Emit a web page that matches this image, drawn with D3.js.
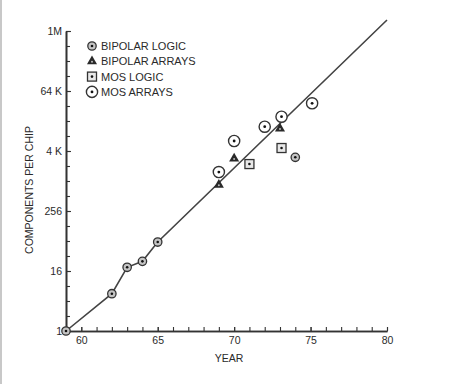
<!DOCTYPE html>
<html>
<head>
<meta charset="utf-8">
<script src="https://cdn.jsdelivr.net/npm/d3@7"></script>
<style>
  body { margin: 0; background: #fff; }
  text { font-family: "Liberation Sans", Arial, sans-serif; fill: #2a2a2a; }
</style>
</head>
<body>
<div id="chart"></div>
<script>
// values (components per chip, log2 scale)
var bipolarLogicYears = [1959, 1962, 1963, 1964, 1965, 1974];
var bipolarLogicVals = [1, 5.6, 19, 25, 61, 3060];

var bipolarArrayYears = [1969, 1970, 1973];
var bipolarArrayVals = [861, 2900, 11585];

var mosLogicYears = [1971, 1973.1];
var mosLogicVals = [2240, 4700];

var mosArrayYears = [1969, 1970, 1972, 1973.1, 1975.1];
var mosArrayVals = [1550, 6500, 12600, 20000, 37100];

// trend line: through early points then extrapolated
var trendYears = [1959, 1962, 1963, 1964, 1965, 1980];
var trendVals = [1, 5.6, 19, 25, 61, 1740000];

var yMajor = [1, 16, 256, 4096, 65536, 1048576];
var yMajorLabels = ["1", "16", "256", "4 K", "64 K", "1M"];
var xLabels = [1960, 1965, 1970, 1975, 1980];

var legendNames = ["BIPOLAR LOGIC", "BIPOLAR ARRAYS", "MOS LOGIC", "MOS ARRAYS"];

var svgWidth = 453;
var svgHeight = 384;

var svg = d3.select("#chart")
  .append("svg")
  .attr("width", svgWidth)
  .attr("height", svgHeight);

svg.append("rect").attr("width", svgWidth).attr("height", svgHeight).attr("fill", "#fff");
svg.append("line")
  .attr("x1", 1).attr("x2", 1).attr("y1", 0).attr("y2", svgHeight)
  .attr("stroke", "#c8c8c8").attr("stroke-width", 2);

var x = d3.scaleLinear().domain([1959, 1980]).range([66, 387]);
var y = d3.scaleLog().base(2).domain([1, 1048576]).range([331, 31]);

var ink = "#333";

// minor ticks every doubling / every year
var yMinor = d3.range(0, 21).map(function(p) { return Math.pow(2, p); });
var xMinor = d3.range(1959, 1981);

svg.append("g")
  .attr("transform", "translate(66,0)")
  .call(d3.axisLeft(y).tickValues(yMinor).tickSizeInner(-4).tickSizeOuter(0).tickFormat(""));

svg.append("g")
  .attr("transform", "translate(66,0)")
  .call(d3.axisLeft(y).tickValues(yMajor).tickSizeInner(-5).tickSizeOuter(0).tickPadding(4)
    .tickFormat(function(d, i) { return yMajorLabels[i]; }));

svg.append("g")
  .attr("transform", "translate(0,331)")
  .call(d3.axisBottom(x).tickValues(xMinor).tickSizeInner(-4).tickSizeOuter(0).tickFormat(""));

svg.append("g")
  .attr("transform", "translate(0,331)")
  .call(d3.axisBottom(x).tickValues(xLabels).tickSizeInner(-4).tickSizeOuter(0).tickPadding(6)
    .tickFormat(function(d) { return String(d).slice(2); }));

svg.selectAll(".domain").attr("stroke", ink).attr("stroke-width", 1.6);
svg.selectAll(".tick line").attr("stroke", ink).attr("stroke-width", 1.1);
svg.selectAll(".tick text")
  .style("font-size", "10.5px")
  .attr("fill", "#222");

// trend line
var line = d3.line()
  .x(function(d) { return x(d[0]); })
  .y(function(d) { return y(d[1]); });

svg.append("path")
  .datum(d3.zip(trendYears, trendVals))
  .attr("d", line)
  .attr("fill", "none")
  .attr("stroke", "#444")
  .attr("stroke-width", 1.6);

// marker drawers
function bipolarLogic(g) {
  g.append("circle").attr("r", 4.2).attr("fill", "#c4c4c4").attr("stroke", ink).attr("stroke-width", 1.3);
  g.append("circle").attr("r", 1.3).attr("fill", "#111");
}
function bipolarArray(g) {
  g.append("path")
    .attr("d", d3.symbol().type(d3.symbolTriangle).size(44)())
    .attr("fill", "#2a2a2a");
  g.append("circle").attr("r", 1).attr("cy", 0.5).attr("fill", "#bbb");
}
function mosLogic(g) {
  g.append("rect").attr("x", -4.5).attr("y", -4.5).attr("width", 9).attr("height", 9)
    .attr("fill", "#e8e8e8").attr("stroke", ink).attr("stroke-width", 1.3);
  g.append("circle").attr("r", 1.3).attr("fill", "#111");
}
function mosArray(g) {
  g.append("circle").attr("r", 5.6).attr("fill", "#fff").attr("stroke", ink).attr("stroke-width", 1.4);
  g.append("circle").attr("r", 1.4).attr("fill", "#111");
}

function plot(years, vals, draw) {
  svg.selectAll(null)
    .data(d3.zip(years, vals))
    .enter()
    .append("g")
    .attr("transform", function(d) { return "translate(" + x(d[0]) + "," + y(d[1]) + ")"; })
    .each(function() { draw(d3.select(this)); });
}

plot(bipolarLogicYears, bipolarLogicVals, bipolarLogic);
plot(bipolarArrayYears, bipolarArrayVals, bipolarArray);
plot(mosLogicYears, mosLogicVals, mosLogic);
plot(mosArrayYears, mosArrayVals, mosArray);

// legend
var drawers = [bipolarLogic, bipolarArray, mosLogic, mosArray];
var legend = svg.append("g").attr("transform", "translate(92,46)");
legendNames.forEach(function(name, i) {
  var row = legend.append("g").attr("transform", "translate(0," + (i * 15.3) + ")");
  drawers[i](row);
  row.append("text")
    .attr("x", 9)
    .attr("y", 4)
    .style("font-size", "11px")
    .text(name);
});

// axis titles
svg.append("text")
  .attr("transform", "translate(33,190) rotate(-90)")
  .attr("text-anchor", "middle")
  .style("font-size", "10.5px")
  .text("COMPONENTS PER CHIP");

svg.append("text")
  .attr("x", 229)
  .attr("y", 362)
  .attr("text-anchor", "middle")
  .style("font-size", "10.5px")
  .text("YEAR");
</script>
</body>
</html>
